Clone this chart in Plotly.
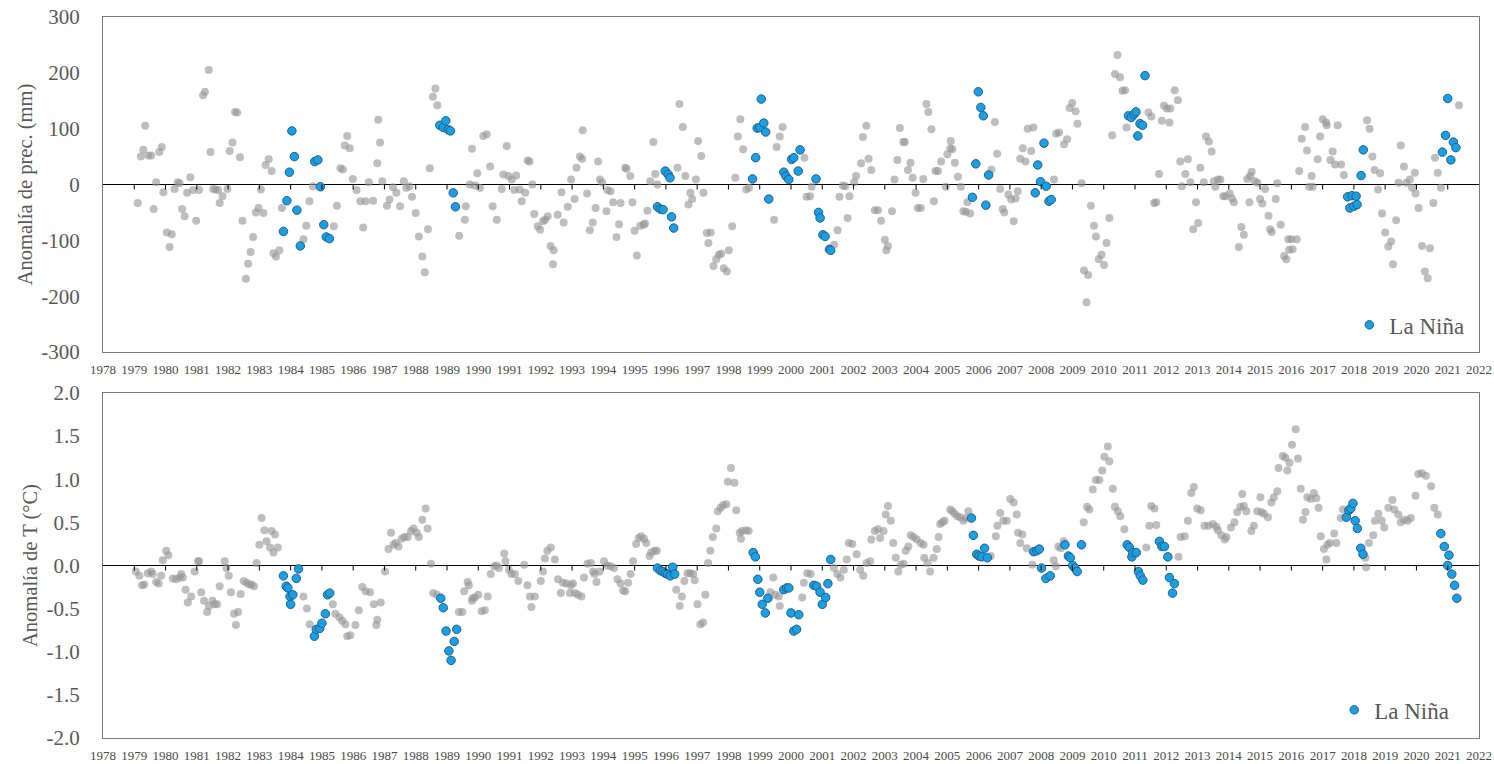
import plotly.graph_objects as go

years = list(range(1978, 2023))
year_labels = [str(y) for y in years]

prec_ticks = [-300, -200, -100, 0, 100, 200, 300]
prec_ticklabels = ["-300", "-200", "-100", "0", "100", "200", "300"]
temp_ticks = [-2.0, -1.5, -1.0, -0.5, 0.0, 0.5, 1.0, 1.5, 2.0]
temp_ticklabels = ["-2.0", "-1.5", "-1.0", "-0.5", "0.0", "0.5", "1.0", "1.5", "2.0"]

# Precipitation anomaly (mm), all months (grey)
prec_all = [
    (1979.11, -33), (1979.21, 50), (1979.29, 62), (1979.35, 105), (1979.45, 52), (1979.54, 52),
    (1979.62, -44), (1979.70, 4), (1979.80, 58), (1979.88, 67), (1979.93, -14), (1980.04, -86),
    (1980.13, -112), (1980.20, -89), (1980.29, -8), (1980.39, 4), (1980.45, 2), (1980.53, -44),
    (1980.61, -57), (1980.69, -15), (1980.79, 13), (1980.88, -10), (1980.98, -65), (1981.07, -10),
    (1981.20, 160), (1981.26, 166), (1981.38, 205), (1981.44, 58), (1981.52, -8), (1981.60, -9),
    (1981.68, -10), (1981.73, -33), (1981.82, -21), (1981.98, -8), (1982.05, 60), (1982.14, 75),
    (1982.22, 130), (1982.29, 129), (1982.38, 49), (1982.46, -65), (1982.57, -169), (1982.64, -142),
    (1982.72, -121), (1982.80, -94), (1982.89, -50), (1982.97, -42), (1983.05, -9), (1983.13, -51),
    (1983.20, 35), (1983.30, 45), (1983.39, 24), (1983.45, -123), (1983.53, -129), (1983.64, -118),
    (1983.72, -42), (1984.41, -98), (1984.50, -74), (1984.60, -30), (1984.71, -3), (1985.38, -75),
    (1985.48, -38), (1985.59, 29), (1985.67, 27), (1985.73, 70), (1985.81, 87), (1985.89, 65),
    (1985.99, 10), (1986.11, -10), (1986.23, -30), (1986.32, -77), (1986.40, -30), (1986.50, 4),
    (1986.64, -29), (1986.77, 38), (1986.80, 116), (1986.86, 75), (1986.93, 6), (1987.08, -38),
    (1987.16, -27), (1987.27, -5), (1987.38, -15), (1987.50, -39), (1987.62, 6), (1987.70, -6),
    (1987.80, -3), (1987.88, -22), (1988.00, -51), (1988.10, -93), (1988.21, -129), (1988.29, -157),
    (1988.39, -80), (1988.45, 29), (1988.55, 157), (1988.63, 172), (1988.69, 142), (1989.39, -92),
    (1989.57, -63), (1989.60, -39), (1989.73, 0), (1989.80, 64), (1989.89, -2), (1989.97, 20),
    (1990.05, -6), (1990.16, 87), (1990.27, 90), (1990.38, 32), (1990.46, -39), (1990.59, -63),
    (1990.75, -8), (1990.80, 18), (1990.91, 69), (1990.97, 15), (1991.07, 9), (1991.15, -10),
    (1991.21, 16), (1991.32, -9), (1991.39, -30), (1991.50, -15), (1991.58, 43), (1991.64, 41),
    (1991.73, 0), (1991.79, -53), (1991.90, -75), (1991.98, -81), (1992.07, -66), (1992.14, -63),
    (1992.22, -57), (1992.31, -110), (1992.39, -143), (1992.41, -118), (1992.54, -54), (1992.66, -14),
    (1992.73, -68), (1992.86, -40), (1992.97, 9), (1993.08, -26), (1993.14, 30), (1993.25, 50),
    (1993.32, 46), (1993.34, 97), (1993.48, -16), (1993.57, -82), (1993.66, -68), (1993.75, -42),
    (1993.83, 41), (1993.89, 9), (1993.96, 4), (1994.10, -48), (1994.13, -10), (1994.23, -12),
    (1994.31, -32), (1994.42, -94), (1994.50, -71), (1994.55, -33), (1994.70, 30), (1994.74, 28),
    (1994.86, 15), (1994.93, -32), (1995.00, -83), (1995.07, -127), (1995.18, -74), (1995.29, -72),
    (1995.33, -70), (1995.41, -47), (1995.50, 6), (1995.60, 76), (1995.66, 19), (1995.73, 0),
    (1996.37, 30), (1996.43, 144), (1996.54, 103), (1996.62, 15), (1996.72, -36), (1996.78, -15),
    (1996.84, -26), (1996.96, 9), (1997.03, 78), (1997.13, 51), (1997.20, -15), (1997.31, -87),
    (1997.36, -105), (1997.43, -86), (1997.52, -146), (1997.61, -134), (1997.69, -126), (1997.77, -124),
    (1997.85, -150), (1997.95, -156), (1998.01, -118), (1998.12, -75), (1998.22, 12), (1998.30, 86),
    (1998.38, 117), (1998.47, 63), (1998.57, -9), (1998.66, -6), (1999.46, -63), (1999.54, 67),
    (1999.64, 86), (1999.73, 103), (2000.43, 48), (2000.50, -22), (2000.61, -21), (2000.66, -4),
    (2001.38, -108), (2001.49, -82), (2001.55, -22), (2001.66, -2), (2001.73, -3), (2001.81, -60),
    (2001.87, -21), (2002.02, 4), (2002.08, 15), (2002.24, 38), (2002.30, 85), (2002.41, 105),
    (2002.48, 46), (2002.57, 26), (2002.68, -46), (2002.78, -46), (2002.88, -65), (2003.00, -99),
    (2003.05, -118), (2003.10, -110), (2003.23, -48), (2003.31, 9), (2003.40, 44), (2003.48, 101),
    (2003.59, 76), (2003.64, 76), (2003.74, 26), (2003.82, 39), (2003.89, 12), (2003.98, -15),
    (2004.06, -42), (2004.15, -42), (2004.23, 10), (2004.33, 144), (2004.39, 130), (2004.49, 99),
    (2004.57, -30), (2004.62, 24), (2004.70, 24), (2004.80, 41), (2004.95, -4), (2005.00, 54),
    (2005.09, 65), (2005.11, 78), (2005.16, 63), (2005.24, 39), (2005.34, 14), (2005.43, -4),
    (2005.51, -48), (2005.59, -49), (2005.64, -32), (2005.73, -52), (2006.41, 27), (2006.52, 112),
    (2006.59, 55), (2006.69, -8), (2006.77, -44), (2006.82, -50), (2006.95, -18), (2007.04, -27),
    (2007.12, -66), (2007.18, -25), (2007.25, -12), (2007.33, 46), (2007.41, 65), (2007.50, 41),
    (2007.57, 100), (2007.68, 60), (2007.75, 102), (2008.41, 9), (2008.48, 91), (2008.57, 93),
    (2008.73, 72), (2008.83, 81), (2008.91, 137), (2008.99, 146), (2009.10, 131), (2009.16, 109),
    (2009.29, 2), (2009.37, -154), (2009.45, -211), (2009.50, -162), (2009.59, -38), (2009.69, -74),
    (2009.75, -93), (2009.84, -134), (2009.93, -126), (2010.01, -144), (2010.09, -105), (2010.18, -60),
    (2010.27, 88), (2010.36, 198), (2010.44, 232), (2010.52, 192), (2010.60, 168), (2010.68, 169),
    (2010.73, 102), (2011.43, 129), (2011.52, 122), (2011.61, -33), (2011.68, -32), (2011.77, 19),
    (2011.86, 114), (2011.93, 141), (2012.02, 136), (2012.10, 111), (2012.13, 136), (2012.27, 169),
    (2012.37, 151), (2012.45, 41), (2012.50, -3), (2012.61, 19), (2012.69, 45), (2012.77, 4),
    (2012.86, -80), (2012.95, -32), (2013.02, -69), (2013.09, 30), (2013.20, 4), (2013.27, 86),
    (2013.36, 77), (2013.45, 59), (2013.52, 6), (2013.57, -4), (2013.65, 9), (2013.73, 9),
    (2013.82, -21), (2013.89, -21), (2014.03, -16), (2014.10, -25), (2014.16, -32), (2014.32, -112),
    (2014.40, -76), (2014.48, -90), (2014.59, 10), (2014.68, 15), (2014.66, -32), (2014.73, 23),
    (2014.83, 6), (2014.91, 3), (2015.00, -26), (2015.07, -34), (2015.16, -8), (2015.27, -56),
    (2015.32, -80), (2015.37, -85), (2015.50, -26), (2015.55, 2), (2015.66, -72), (2015.77, -128),
    (2015.84, -134), (2015.90, -98), (2015.93, -117), (2016.00, -98), (2016.04, -116), (2016.17, -98),
    (2016.25, 24), (2016.33, 82), (2016.44, 103), (2016.50, 61), (2016.57, -4), (2016.65, 15),
    (2016.68, -4), (2016.84, 45), (2016.92, 86), (2017.00, 117), (2017.11, 111), (2017.13, 106),
    (2017.25, 44), (2017.32, 59), (2017.40, 36), (2017.48, 106), (2017.59, 36), (2017.68, 17),
    (2018.42, 115), (2018.50, 100), (2018.59, 50), (2018.66, 26), (2018.77, -9), (2018.84, 20),
    (2018.90, -52), (2019.00, -86), (2019.10, -111), (2019.19, -102), (2019.25, -143), (2019.35, -64),
    (2019.43, 3), (2019.50, 70), (2019.60, 32), (2019.68, 3), (2019.79, 9), (2019.86, -6),
    (2019.95, 21), (2019.97, -16), (2020.07, -42), (2020.18, -110), (2020.27, -156), (2020.36, -168),
    (2020.43, -114), (2020.54, -33), (2020.59, 48), (2020.68, 21), (2020.78, -6), (2021.36, 142),
]

# Precipitation anomaly (mm), La Niña months (blue)
prec_nina = [
    (1983.77, -84), (1983.88, -29), (1983.96, 22), (1984.04, 96), (1984.12, 50), (1984.20, -46),
    (1984.31, -110), (1984.77, 41), (1984.87, 44), (1984.95, -4), (1985.06, -72), (1985.14, -94),
    (1985.24, -97), (1988.77, 106), (1988.88, 102), (1988.96, 114), (1989.04, 98), (1989.11, 96),
    (1989.20, -15), (1989.27, -40), (1995.73, -40), (1995.82, -44), (1995.91, -45), (1995.98, 24),
    (1996.07, 18), (1996.13, 12), (1996.18, -58), (1996.25, -78), (1998.77, 10), (1998.87, 48),
    (1998.92, 101), (1999.00, 102), (1999.05, 153), (1999.13, 110), (1999.19, 94), (1999.29, -26),
    (1999.77, 22), (1999.84, 15), (1999.93, 9), (2000.02, 45), (2000.09, 48), (2000.23, 24),
    (2000.29, 62), (2000.80, 10), (2000.88, -50), (2000.93, -60), (2001.02, -90), (2001.09, -93),
    (2001.23, -116), (2001.27, -118), (2005.80, -23), (2005.91, 37), (2005.99, 166), (2006.07, 138),
    (2006.15, 123), (2006.23, -37), (2006.32, 17), (2007.81, -15), (2007.89, 35), (2007.98, 5),
    (2008.09, 74), (2008.16, -3), (2008.25, -30), (2008.32, -27), (2010.79, 123), (2010.88, 120),
    (2010.97, 126), (2011.03, 130), (2011.09, 87), (2011.16, 109), (2011.24, 106), (2011.32, 195),
    (2017.80, -22), (2017.87, -42), (2017.94, -20), (2018.00, -39), (2018.07, -21), (2018.10, -36),
    (2018.23, 16), (2018.30, 62), (2020.83, 58), (2020.93, 88), (2021.00, 154), (2021.10, 44),
    (2021.18, 76), (2021.26, 66),
]

# Temperature anomaly (°C), all months (grey)
temp_all = [
    (1979.05, -0.07), (1979.16, -0.12), (1979.25, -0.23), (1979.32, -0.22), (1979.43, -0.09),
    (1979.54, -0.07), (1979.59, -0.10), (1979.70, -0.19), (1979.78, -0.21), (1979.86, -0.12),
    (1979.91, 0.06), (1980.02, 0.17), (1980.09, 0.12), (1980.23, -0.15), (1980.34, -0.16),
    (1980.45, -0.14), (1980.50, -0.10), (1980.55, -0.14), (1980.64, -0.28), (1980.71, -0.43),
    (1980.82, -0.36), (1980.93, -0.07), (1981.04, 0.05), (1981.07, 0.05), (1981.14, -0.31),
    (1981.23, -0.41), (1981.33, -0.54), (1981.39, -0.47), (1981.50, -0.41), (1981.57, -0.45),
    (1981.65, -0.45), (1981.73, -0.24), (1981.89, 0.05), (1981.95, -0.03), (1982.02, -0.12),
    (1982.09, -0.31), (1982.19, -0.56), (1982.25, -0.69), (1982.32, -0.54), (1982.40, -0.33),
    (1982.50, -0.18), (1982.59, -0.20), (1982.68, -0.22), (1982.75, -0.22), (1982.83, -0.24),
    (1982.91, 0.03), (1983.00, 0.24), (1983.07, 0.55), (1983.16, 0.41), (1983.23, 0.28),
    (1983.34, 0.21), (1983.39, 0.40), (1983.45, 0.15), (1983.50, 0.36), (1983.59, 0.21),
    (1984.41, -0.36), (1984.52, -0.50), (1984.61, -0.68), (1985.35, -0.45), (1985.43, -0.56),
    (1985.56, -0.60), (1985.65, -0.64), (1985.75, -0.68), (1985.81, -0.82), (1985.91, -0.81),
    (1986.07, -0.69), (1986.18, -0.52), (1986.29, -0.25), (1986.40, -0.30), (1986.54, -0.31),
    (1986.66, -0.45), (1986.74, -0.69), (1986.77, -0.63), (1986.88, -0.43), (1987.02, -0.07),
    (1987.13, 0.19), (1987.21, 0.38), (1987.29, 0.24), (1987.36, 0.26), (1987.45, 0.22),
    (1987.55, 0.31), (1987.64, 0.33), (1987.74, 0.33), (1987.85, 0.40), (1987.93, 0.43),
    (1988.03, 0.38), (1988.10, 0.33), (1988.21, 0.53), (1988.32, 0.66), (1988.38, 0.43),
    (1988.49, 0.02), (1988.56, -0.32), (1988.67, -0.34), (1989.38, -0.54), (1989.49, -0.54),
    (1989.55, -0.30), (1989.66, -0.19), (1989.70, -0.23), (1989.80, -0.41), (1989.82, -0.38),
    (1989.89, -0.37), (1990.00, -0.34), (1990.11, -0.53), (1990.21, -0.52), (1990.30, -0.36),
    (1990.40, -0.10), (1990.51, -0.01), (1990.59, 0.00), (1990.66, -0.03), (1990.83, 0.14),
    (1990.87, 0.05), (1990.98, -0.05), (1991.06, -0.10), (1991.17, -0.10), (1991.28, -0.18),
    (1991.47, 0.01), (1991.57, -0.23), (1991.65, -0.36), (1991.70, -0.48), (1991.81, -0.36),
    (1992.00, -0.18), (1992.07, -0.07), (1992.13, 0.08), (1992.21, 0.17), (1992.32, 0.21),
    (1992.45, 0.07), (1992.55, -0.16), (1992.64, -0.32), (1992.71, -0.20), (1992.82, -0.21),
    (1992.93, -0.32), (1992.96, -0.23), (1993.03, -0.21), (1993.09, -0.32), (1993.19, -0.34),
    (1993.30, -0.36), (1993.38, -0.14), (1993.49, 0.02), (1993.60, 0.03), (1993.67, -0.07),
    (1993.72, -0.10), (1993.78, -0.19), (1993.88, -0.07), (1994.02, 0.05), (1994.13, 0.00),
    (1994.23, -0.01), (1994.34, -0.03), (1994.45, -0.16), (1994.55, -0.21), (1994.63, -0.29),
    (1994.70, -0.30), (1994.79, -0.20), (1994.87, -0.10), (1994.95, 0.05), (1995.05, 0.25),
    (1995.13, 0.32), (1995.21, 0.34), (1995.30, 0.31), (1995.37, 0.26), (1995.48, 0.11),
    (1995.53, 0.15), (1995.64, 0.17), (1995.71, 0.17), (1996.33, -0.28), (1996.44, -0.47),
    (1996.51, -0.36), (1996.59, -0.18), (1996.69, -0.09), (1996.78, -0.09), (1996.87, -0.10),
    (1996.92, -0.17), (1997.01, -0.45), (1997.10, -0.68), (1997.19, -0.66), (1997.26, -0.34),
    (1997.35, 0.03), (1997.42, 0.17), (1997.50, 0.33), (1997.61, 0.43), (1997.66, 0.63),
    (1997.75, 0.67), (1997.83, 0.70), (1997.93, 0.71), (1997.98, 0.97), (1998.08, 1.13),
    (1998.19, 0.96), (1998.25, 0.64), (1998.36, 0.38), (1998.40, 0.31), (1998.44, 0.40),
    (1998.57, 0.41), (1998.65, 0.40), (1999.34, -0.31), (1999.43, -0.14), (1999.50, -0.34),
    (1999.61, -0.36), (1999.64, -0.47), (2000.36, -0.37), (2000.41, -0.20), (2000.52, -0.09),
    (2000.63, -0.10), (2001.37, -0.03), (2001.48, -0.10), (2001.58, -0.14), (2001.69, -0.05),
    (2001.78, 0.07), (2001.85, 0.26), (2001.96, 0.25), (2002.10, 0.13), (2002.21, -0.05),
    (2002.31, -0.12), (2002.42, 0.03), (2002.53, 0.05), (2002.57, 0.30), (2002.68, 0.40),
    (2002.78, 0.42), (2002.85, 0.32), (2002.96, 0.40), (2003.03, 0.59), (2003.10, 0.69),
    (2003.19, 0.52), (2003.27, 0.26), (2003.35, 0.09), (2003.43, -0.07), (2003.51, 0.01),
    (2003.60, 0.02), (2003.67, 0.17), (2003.75, 0.22), (2003.83, 0.35), (2003.92, 0.33),
    (2004.02, 0.30), (2004.15, 0.26), (2004.24, 0.24), (2004.26, 0.09), (2004.37, 0.03),
    (2004.45, -0.07), (2004.56, 0.09), (2004.66, 0.19), (2004.72, 0.33), (2004.77, 0.48),
    (2004.84, 0.50), (2004.91, 0.52), (2005.09, 0.65), (2005.16, 0.63), (2005.24, 0.60),
    (2005.32, 0.57), (2005.41, 0.56), (2005.51, 0.52), (2005.59, 0.55), (2005.67, 0.63),
    (2006.39, 0.11), (2006.55, 0.34), (2006.60, 0.46), (2006.69, 0.61), (2006.79, 0.52),
    (2006.90, 0.52), (2007.01, 0.77), (2007.12, 0.73), (2007.22, 0.59), (2007.26, 0.38),
    (2007.33, 0.26), (2007.40, 0.36), (2007.54, 0.20), (2007.72, 0.01), (2008.40, 0.06),
    (2008.47, -0.01), (2008.55, 0.22), (2008.63, 0.20), (2008.72, 0.28), (2009.36, 0.50),
    (2009.47, 0.68), (2009.54, 0.65), (2009.65, 0.88), (2009.75, 0.99), (2009.86, 0.99),
    (2009.95, 1.10), (2010.02, 1.26), (2010.13, 1.38), (2010.18, 1.21), (2010.29, 0.89),
    (2010.36, 0.68), (2010.45, 0.63), (2010.53, 0.57), (2010.66, 0.42), (2011.36, 0.21),
    (2011.46, 0.46), (2011.52, 0.69), (2011.62, 0.66), (2011.68, 0.47), (2012.39, 0.10),
    (2012.46, 0.33), (2012.59, 0.34), (2012.69, 0.52), (2012.80, 0.84), (2012.88, 0.91),
    (2012.99, 0.66), (2013.10, 0.64), (2013.22, 0.46), (2013.35, 0.46), (2013.49, 0.48),
    (2013.60, 0.45), (2013.65, 0.41), (2013.76, 0.35), (2013.87, 0.30), (2013.92, 0.33),
    (2014.07, 0.44), (2014.18, 0.50), (2014.27, 0.62), (2014.37, 0.68), (2014.43, 0.83),
    (2014.48, 0.69), (2014.56, 0.63), (2014.72, 0.40), (2014.80, 0.46), (2014.91, 0.63),
    (2015.01, 0.79), (2015.04, 0.62), (2015.12, 0.60), (2015.25, 0.56), (2015.36, 0.73),
    (2015.44, 0.79), (2015.55, 0.86), (2015.59, 1.13), (2015.73, 1.27), (2015.81, 1.25),
    (2015.87, 1.10), (2015.94, 1.19), (2016.02, 1.40), (2016.14, 1.58), (2016.21, 1.24),
    (2016.30, 0.89), (2016.37, 0.53), (2016.45, 0.62), (2016.51, 0.79), (2016.62, 0.77),
    (2016.72, 0.84), (2016.80, 0.78), (2016.87, 0.67), (2016.94, 0.34), (2017.04, 0.19),
    (2017.12, 0.07), (2017.15, 0.24), (2017.23, 0.26), (2017.37, 0.37), (2017.44, 0.26),
    (2017.58, 0.55), (2017.65, 0.65), (2018.37, 0.09), (2018.39, -0.02), (2018.48, 0.26),
    (2018.62, 0.35), (2018.67, 0.52), (2018.78, 0.60), (2018.89, 0.52), (2018.97, 0.44),
    (2019.10, 0.67), (2019.23, 0.76), (2019.29, 0.65), (2019.42, 0.59), (2019.50, 0.50),
    (2019.61, 0.53), (2019.72, 0.52), (2019.82, 0.55), (2019.97, 0.81), (2020.06, 1.06),
    (2020.17, 1.07), (2020.30, 1.04), (2020.47, 0.92), (2020.57, 0.67), (2020.68, 0.59),
]

# Temperature anomaly (°C), La Niña months (blue)
temp_nina = [
    (1983.77, -0.12), (1983.86, -0.24), (1983.91, -0.26), (1983.98, -0.36), (1984.00, -0.45),
    (1984.07, -0.34), (1984.18, -0.15), (1984.25, -0.04), (1984.76, -0.82), (1984.82, -0.74),
    (1984.93, -0.73), (1985.00, -0.67), (1985.11, -0.56), (1985.18, -0.34), (1985.25, -0.32),
    (1988.80, -0.38), (1988.88, -0.49), (1988.97, -0.76), (1989.06, -0.99), (1989.13, -1.10),
    (1989.23, -0.88), (1989.31, -0.74), (1995.73, -0.03), (1995.82, -0.06), (1995.90, -0.07),
    (1995.98, -0.09), (1996.05, -0.10), (1996.14, -0.12), (1996.22, -0.02), (1996.28, -0.10),
    (1998.79, 0.15), (1998.86, 0.10), (1998.94, -0.16), (1999.00, -0.31), (1999.08, -0.45),
    (1999.18, -0.55), (1999.26, -0.38), (1999.77, -0.28), (1999.86, -0.26), (1999.93, -0.26),
    (2000.00, -0.55), (2000.09, -0.76), (2000.18, -0.74), (2000.25, -0.57), (2000.73, -0.23),
    (2000.82, -0.24), (2000.93, -0.31), (2001.00, -0.45), (2001.11, -0.37), (2001.18, -0.21),
    (2001.27, 0.07), (2005.77, 0.55), (2005.83, 0.35), (2005.94, 0.13), (2006.01, 0.11),
    (2006.10, 0.10), (2006.19, 0.20), (2006.28, 0.09), (2007.76, 0.16), (2007.86, 0.17),
    (2007.94, 0.19), (2008.01, -0.03), (2008.15, -0.15), (2008.29, -0.12), (2008.76, 0.24),
    (2008.87, 0.11), (2008.93, 0.09), (2009.01, 0.00), (2009.08, -0.03), (2009.15, -0.07),
    (2009.29, 0.24), (2010.75, 0.24), (2010.82, 0.21), (2010.90, 0.10), (2010.93, 0.15),
    (2011.04, 0.15), (2011.11, -0.07), (2011.17, -0.12), (2011.25, -0.17), (2011.78, 0.28),
    (2011.86, 0.22), (2011.94, 0.22), (2012.05, 0.10), (2012.10, -0.14), (2012.20, -0.32),
    (2012.26, -0.21), (2017.76, 0.56), (2017.84, 0.64), (2017.90, 0.66), (2017.97, 0.72),
    (2018.04, 0.52), (2018.11, 0.43), (2018.22, 0.20), (2018.29, 0.13), (2020.78, 0.37),
    (2020.89, 0.22), (2021.00, 0.00), (2021.04, 0.12), (2021.13, -0.10), (2021.22, -0.23),
    (2021.29, -0.38),
]

GREY = "rgba(150,150,150,0.62)"
BLUE = "#1a9fe2"
BLUE_EDGE = "#245f8c"
FRAME = "#7a7a7a"
TXT = "#595959"
XTXT = "#4a4a4a"
FONT = "Liberation Serif"

def xy(pairs):
    return [p[0] for p in pairs], [p[1] for p in pairs]

fig = go.Figure()

gx, gy = xy(prec_all)
fig.add_trace(go.Scatter(x=gx, y=gy, mode="markers", xaxis="x", yaxis="y",
                         marker=dict(size=8, color=GREY), showlegend=False, hoverinfo="skip"))
bx, by = xy(prec_nina)
fig.add_trace(go.Scatter(x=bx, y=by, mode="markers", xaxis="x", yaxis="y", name="La Niña",
                         marker=dict(size=8.5, color=BLUE, line=dict(color=BLUE_EDGE, width=1)),
                         legend="legend"))
gx, gy = xy(temp_all)
fig.add_trace(go.Scatter(x=gx, y=gy, mode="markers", xaxis="x2", yaxis="y2",
                         marker=dict(size=8, color=GREY), showlegend=False, hoverinfo="skip"))
bx, by = xy(temp_nina)
fig.add_trace(go.Scatter(x=bx, y=by, mode="markers", xaxis="x2", yaxis="y2", name="La Niña",
                         marker=dict(size=8.5, color=BLUE, line=dict(color=BLUE_EDGE, width=1)),
                         legend="legend2"))

# small tick marks hanging below each zero line, one per year
shapes = []
for yref, xref in (("y", "x"), ("y2", "x2")):
    for yr in years[1:-1]:
        shapes.append(dict(type="line", xref=xref, yref=yref, x0=yr, x1=yr,
                           ysizemode="pixel", yanchor=0, y0=0, y1=-5,
                           line=dict(color="black", width=1), layer="above"))

top_dom = [0.5354, 1.0]
bot_dom = [0.0, 0.4785]

xbase = dict(range=[1978, 2022], tickmode="array", tickvals=years, ticktext=year_labels,
             showgrid=False, zeroline=False, showline=True, mirror=True, linecolor=FRAME,
             linewidth=1, ticks="", ticklabelstandoff=5, automargin=False,
             tickfont=dict(family=FONT, size=13, color=XTXT))

ybase = dict(showgrid=False, zeroline=True, zerolinecolor="black", zerolinewidth=1,
             showline=True, mirror=True, linecolor=FRAME, linewidth=1, ticks="",
             ticklabelstandoff=18, automargin=False,
             tickfont=dict(family=FONT, size=21, color=TXT))

fig.update_layout(
    width=1494, height=764,
    margin=dict(l=103, r=15, t=17, b=26),
    paper_bgcolor="white", plot_bgcolor="white",
    font=dict(family=FONT, color=TXT),
    shapes=shapes,
    xaxis=dict(xbase, anchor="y"),
    yaxis=dict(ybase, domain=top_dom, anchor="x", range=[-300, 300], tickmode="array",
               tickvals=prec_ticks, ticktext=prec_ticklabels,
               title=dict(text="Anomalía de prec. (mm)", standoff=3,
                          font=dict(family=FONT, size=20.5, color=TXT))),
    xaxis2=dict(xbase, anchor="y2"),
    yaxis2=dict(ybase, domain=bot_dom, anchor="x2", range=[-2, 2], tickmode="array",
                tickvals=temp_ticks, ticktext=temp_ticklabels,
                title=dict(text="Anomalía de T (°C)", standoff=3,
                           font=dict(family=FONT, size=20.5, color=TXT))),
    legend=dict(x=0.993, y=0.573, xanchor="right", yanchor="middle", bgcolor="rgba(0,0,0,0)",
                font=dict(family=FONT, size=23, color=TXT), itemwidth=30),
    legend2=dict(x=0.982, y=0.039, xanchor="right", yanchor="middle", bgcolor="rgba(0,0,0,0)",
                 font=dict(family=FONT, size=23, color=TXT), itemwidth=30),
)

fig.write_html("out.html", config={"displayModeBar": False},
               post_script="document.body.style.margin='0';document.body.style.overflow='hidden';")
